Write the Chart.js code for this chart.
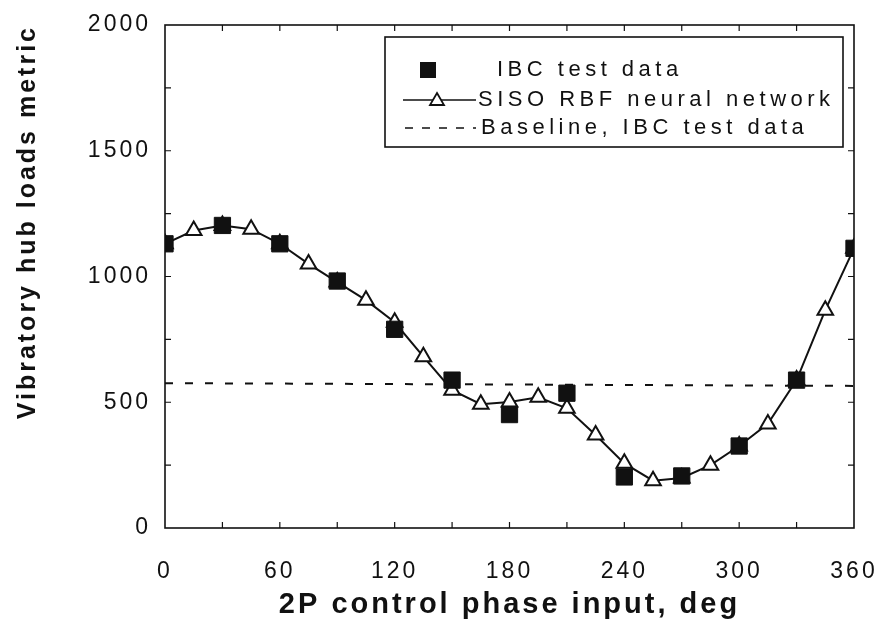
<!DOCTYPE html>
<html>
<head>
<meta charset="utf-8">
<title>Vibratory hub loads vs 2P control phase</title>
<script src="https://cdn.jsdelivr.net/npm/chart.js@4.4.1/dist/chart.umd.min.js"></script>
<style>
    body { margin: 0; background: #fff; }
    canvas { display: block; }
</style>
</head>
<body>
<canvas id="hub-chart" width="875" height="633"></canvas>
<script>
// IBC wind tunnel test points (every 30 deg)
const testPhase = [0, 30, 60, 90, 120, 150, 180, 210, 240, 270, 300, 330, 360];
const testLoads = [1130, 1203, 1130, 982, 790, 588, 451, 536, 203, 207, 326, 588, 1112];

// SISO RBF neural network prediction (every 15 deg)
const netPhase = [0, 15, 30, 45, 60, 75, 90, 105, 120, 135, 150, 165, 180,
    195, 210, 225, 240, 255, 270, 285, 300, 315, 330, 345, 360];
const netLoads = [1130, 1183, 1203, 1188, 1130, 1050, 978, 906, 818, 681, 548, 492, 501,
    520, 476, 370, 257, 188, 199, 250, 326, 414, 588, 866, 1112];

// baseline (no control) level, dashed
const basePhase = [0, 360];
const baseLoads = [576, 565];

const xTickValues = [0, 60, 120, 180, 240, 300, 360];
const yTickValues = [0, 500, 1000, 1500, 2000];

const plotBox = {left: 165, right: 854, top: 25, bottom: 528};
const textSpacing = '3px';
const fontFamily = '"Liberation Sans", Arial, sans-serif';

function toPoints(xs, ys) {
    return xs.map((x, i) => ({x: x, y: ys[i]}));
}

// frame round the plot plus inward ticks on all four sides
const framePlugin = {
    id: 'frame',
    beforeDraw(chart) {
        chart.ctx.letterSpacing = textSpacing;
    },
    afterDatasetsDraw(chart) {
        const ctx = chart.ctx;
        const area = chart.chartArea;
        const xs = chart.scales.x;
        const ys = chart.scales.y;
        ctx.save();
        ctx.strokeStyle = '#111';
        ctx.lineWidth = 1.6;
        ctx.strokeRect(area.left, area.top, area.right - area.left, area.bottom - area.top);
        ctx.lineWidth = 1.2;
        ctx.beginPath();
        for (let v = 30; v < 360; v += 30) {
            const px = xs.getPixelForValue(v);
            ctx.moveTo(px, area.bottom);
            ctx.lineTo(px, area.bottom - 6);
            ctx.moveTo(px, area.top);
            ctx.lineTo(px, area.top + 6);
        }
        for (let v = 250; v < 2000; v += 250) {
            const py = ys.getPixelForValue(v);
            ctx.moveTo(area.left, py);
            ctx.lineTo(area.left + 6, py);
            ctx.moveTo(area.right, py);
            ctx.lineTo(area.right - 6, py);
        }
        ctx.stroke();
        ctx.restore();
    },
};

// boxed legend in the upper right of the plot
const legendBoxPlugin = {
    id: 'legendBox',
    afterDraw(chart) {
        const ctx = chart.ctx;
        const box = {left: 385, top: 37, right: 843, bottom: 147};
        ctx.save();
        ctx.fillStyle = '#fff';
        ctx.fillRect(box.left, box.top, box.right - box.left, box.bottom - box.top);
        ctx.strokeStyle = '#111';
        ctx.lineWidth = 1.6;
        ctx.strokeRect(box.left, box.top, box.right - box.left, box.bottom - box.top);

        ctx.letterSpacing = '4.5px';
        ctx.font = '22px ' + fontFamily;
        ctx.fillStyle = '#111';
        ctx.textBaseline = 'middle';
        ctx.textAlign = 'left';

        // row 1: square marker
        ctx.fillRect(420, 62, 16, 16);
        ctx.fillText('IBC test data', 497, 70);

        // row 2: line with triangle
        ctx.lineWidth = 1.4;
        ctx.beginPath();
        ctx.moveTo(403, 100);
        ctx.lineTo(476, 100);
        ctx.stroke();
        ctx.lineWidth = 1.8;
        ctx.fillStyle = '#fff';
        ctx.beginPath();
        ctx.moveTo(437, 93);
        ctx.lineTo(444, 105);
        ctx.lineTo(430, 105);
        ctx.closePath();
        ctx.fill();
        ctx.stroke();
        ctx.fillStyle = '#111';
        ctx.fillText('SISO RBF neural network', 478, 100);

        // row 3: dashed line
        ctx.lineWidth = 1.6;
        ctx.setLineDash([8, 9]);
        ctx.beginPath();
        ctx.moveTo(405, 128);
        ctx.lineTo(476, 128);
        ctx.stroke();
        ctx.setLineDash([]);
        ctx.fillText('Baseline, IBC test data', 481, 128);
        ctx.restore();
    },
};

function buildChart() {
    const ctx = document.getElementById('hub-chart').getContext('2d');
    return new Chart(ctx, {
        type: 'scatter',
        data: {
            datasets: [
                {
                    label: 'IBC test data',
                    data: toPoints(testPhase, testLoads),
                    pointStyle: 'rect',
                    pointRadius: 11.5,
                    backgroundColor: '#111',
                    borderColor: '#111',
                    borderWidth: 1,
                    showLine: false,
                    order: 0,
                },
                {
                    label: 'SISO RBF neural network',
                    data: toPoints(netPhase, netLoads),
                    pointStyle: 'triangle',
                    pointRadius: 9,
                    pointBackgroundColor: '#fff',
                    pointBorderColor: '#111',
                    pointBorderWidth: 2,
                    borderColor: '#111',
                    borderWidth: 2,
                    showLine: true,
                    tension: 0,
                    order: 1,
                },
                {
                    label: 'Baseline, IBC test data',
                    data: toPoints(basePhase, baseLoads),
                    pointRadius: 0,
                    borderColor: '#111',
                    borderWidth: 2,
                    borderDash: [8, 12],
                    showLine: true,
                    order: 2,
                },
            ],
        },
        options: {
            responsive: false,
            animation: false,
            devicePixelRatio: 1,
            layout: {
                padding: {
                    top: plotBox.top,
                    right: 875 - plotBox.right,
                    left: 0,
                    bottom: 0,
                },
            },
            plugins: {
                legend: {display: false},
                tooltip: {enabled: false},
            },
            scales: {
                x: {
                    type: 'linear',
                    min: 0,
                    max: 360,
                    afterBuildTicks(scale) {
                        scale.ticks = xTickValues.map((v) => ({value: v}));
                    },
                    afterFit(scale) {
                        scale.height = 633 - plotBox.bottom;
                        // label overhang must not shrink the plot
                        scale.paddingLeft = 0;
                        scale.paddingRight = 0;
                    },
                    grid: {display: false},
                    border: {display: false},
                    ticks: {
                        color: '#111',
                        padding: 22,
                        maxRotation: 0,
                        callback: (value) => String(value),
                        font: {family: fontFamily, size: 23},
                    },
                    title: {
                        display: true,
                        text: '2P control phase input, deg',
                        color: '#111',
                        padding: {top: 0, bottom: 11},
                        font: {family: fontFamily, size: 29, weight: 'bold'},
                    },
                },
                y: {
                    type: 'linear',
                    min: 0,
                    max: 2000,
                    afterBuildTicks(scale) {
                        scale.ticks = yTickValues.map((v) => ({value: v}));
                    },
                    afterFit(scale) {
                        scale.width = plotBox.left;
                        scale.paddingTop = 0;
                        scale.paddingBottom = 0;
                    },
                    grid: {display: false},
                    border: {display: false},
                    ticks: {
                        color: '#111',
                        padding: 6,
                        callback: (value) => String(value),
                        font: {family: fontFamily, size: 23},
                    },
                    title: {
                        display: true,
                        text: 'Vibratory hub loads metric',
                        color: '#111',
                        align: 'end',
                        padding: {top: 13, bottom: 0},
                        font: {family: fontFamily, size: 25, weight: 'bold'},
                    },
                },
            },
        },
        plugins: [framePlugin, legendBoxPlugin],
    });
}

document.addEventListener('DOMContentLoaded', buildChart);
</script>
</body>
</html>
